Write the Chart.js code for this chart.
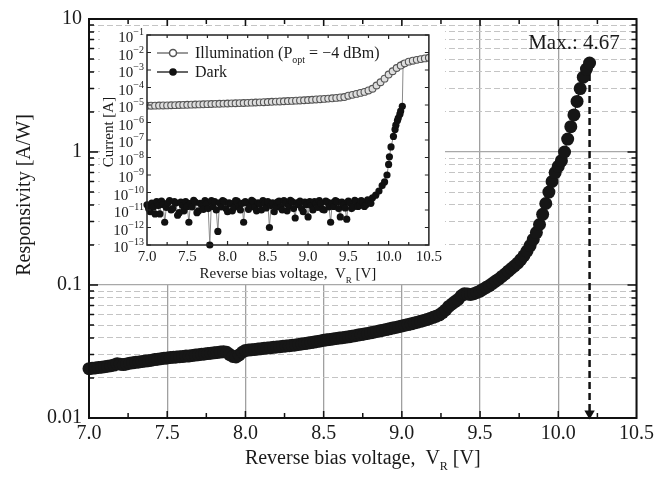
<!DOCTYPE html>
<html>
<head>
<meta charset="utf-8">
<script src="https://cdn.jsdelivr.net/npm/chart.js@4.4.1/dist/chart.umd.min.js"></script>
<style>
  html, body { margin: 0; padding: 0; background: #fff; }
  #wrap { position: relative; width: 658px; height: 479px; }
  #mainChart { position: absolute; left: 0; top: 0; }
  #insetChart { position: absolute; left: 100px; top: 26px; background: #fff; }
</style>
</head>
<body>
<div id="wrap">
  <canvas id="mainChart" width="658" height="479"></canvas>
  <canvas id="insetChart" width="345" height="258"></canvas>
</div>
<script>
// main plot: responsivity vs reverse bias
var voltage = [
  7.00,7.02,7.04,7.06,7.08,7.10,7.12,7.14,7.16,7.18,
  7.20,7.22,7.24,7.26,7.28,7.30,7.32,7.34,7.36,7.38,
  7.40,7.42,7.44,7.46,7.48,7.50,7.52,7.54,7.56,7.58,
  7.60,7.62,7.64,7.66,7.68,7.70,7.72,7.74,7.76,7.78,
  7.80,7.82,7.84,7.86,7.88,7.90,7.92,7.94,7.96,7.98,
  8.00,8.02,8.04,8.06,8.08,8.10,8.12,8.14,8.16,8.18,
  8.20,8.22,8.24,8.26,8.28,8.30,8.32,8.34,8.36,8.38,
  8.40,8.42,8.44,8.46,8.48,8.50,8.52,8.54,8.56,8.58,
  8.60,8.62,8.64,8.66,8.68,8.70,8.72,8.74,8.76,8.78,
  8.80,8.82,8.84,8.86,8.88,8.90,8.92,8.94,8.96,8.98,
  9.00,9.02,9.04,9.06,9.08,9.10,9.12,9.14,9.16,9.18,
  9.20,9.22,9.24,9.26,9.28,9.30,9.32,9.34,9.36,9.38,
  9.40,9.42,9.44,9.46,9.48,9.50,9.52,9.54,9.56,9.58,
  9.60,9.62,9.64,9.66,9.68,9.70,9.72,9.74,9.76,9.78,
  9.80,9.82,9.84,9.86,9.88,9.90,9.92,9.94,9.96,9.98,
  10.00,10.02,10.04,10.06,10.08,10.10,10.12,10.14,10.16,10.18,
  10.20
];
var responsivity = [
  .0235,.0237,.0238,.0240,.0241,.0243,.0245,.0247,.0250,.0256,
  .0254,.0252,.0255,.0258,.0260,.0262,.0264,.0266,.0268,.0270,
  .0272,.0275,.0277,.0279,.0281,.0283,.0285,.0286,.0288,.0289,
  .0290,.0292,.0293,.0295,.0297,.0299,.0301,.0303,.0305,.0307,
  .0309,.0311,.0313,.0315,.0312,.0300,.0290,.0288,.0298,.0312,
  .0322,.0324,.0326,.0328,.0330,.0332,.0334,.0336,.0338,.0340,
  .0342,.0344,.0346,.0348,.0350,.0352,.0354,.0357,.0360,.0363,
  .0366,.0369,.0372,.0376,.0380,.0384,.0387,.0390,.0393,.0396,
  .0399,.0402,.0405,.0408,.0412,.0416,.0420,.0424,.0428,.0432,
  .0437,.0442,.0447,.0452,.0457,.0462,.0468,.0474,.0480,.0486,
  .0492,.0498,.0504,.0511,.0518,.0525,.0533,.0541,.0550,.0560,
  .0571,.0583,.0597,.0620,.0650,.0690,.0720,.0750,.0780,.0830,
  .0860,.0855,.0850,.0860,.0880,.0900,.0930,.0960,.0990,.1030,
  .107,.111,.116,.121,.127,.133,.139,.146,.155,.166,
  .180,.198,.220,.248,.285,.340,.410,.500,.600,.700,
  .780,.860,1.00,1.25,1.55,1.90,2.40,3.00,3.65,4.20,
  4.67
];
var maxVoltage = 10.20;
var maxResp = 4.67;
var respDecades = [0.01, 0.1, 1, 10];

// inset: current vs reverse bias
var illumVoltage = [
  7.00,7.05,7.10,7.15,7.20,7.25,7.30,7.35,7.40,7.45,
  7.50,7.55,7.60,7.65,7.70,7.75,7.80,7.85,7.90,7.95,
  8.00,8.05,8.10,8.15,8.20,8.25,8.30,8.35,8.40,8.45,
  8.50,8.55,8.60,8.65,8.70,8.75,8.80,8.85,8.90,8.95,
  9.00,9.05,9.10,9.15,9.20,9.25,9.30,9.35,9.40,9.45,
  9.50,9.55,9.60,9.65,9.70,9.75,9.80,9.85,9.90,9.95,
  10.00,10.05,10.10,10.15,10.20,10.25,10.30,10.35,10.40,10.45,
  10.50
];
var illumCurrent = [
  9.0e-6,9.1e-6,9.2e-6,9.3e-6,9.4e-6,9.5e-6,9.7e-6,9.8e-6,1.0e-5,1.01e-5,
  1.03e-5,1.05e-5,1.07e-5,1.08e-5,1.1e-5,1.12e-5,1.14e-5,1.16e-5,1.18e-5,1.2e-5,
  1.22e-5,1.24e-5,1.26e-5,1.28e-5,1.3e-5,1.33e-5,1.36e-5,1.39e-5,1.42e-5,1.45e-5,
  1.48e-5,1.52e-5,1.56e-5,1.6e-5,1.64e-5,1.68e-5,1.72e-5,1.77e-5,1.82e-5,1.87e-5,
  1.93e-5,2.0e-5,2.07e-5,2.15e-5,2.23e-5,2.32e-5,2.42e-5,2.55e-5,2.7e-5,2.85e-5,
  3.4e-5,3.8e-5,4.3e-5,4.9e-5,5.6e-5,6.8e-5,8.5e-5,1.3e-4,2.0e-4,3.2e-4,
  5.5e-4,8.5e-4,1.3e-3,1.8e-3,2.4e-3,3.0e-3,3.4e-3,3.8e-3,4.2e-3,4.6e-3,
  5.0e-3
];
var darkVoltage = [
  7.00,7.02,7.04,7.06,7.08,7.10,7.12,7.14,7.16,7.18,
  7.20,7.22,7.24,7.26,7.28,7.30,7.32,7.34,7.36,7.38,
  7.40,7.42,7.44,7.46,7.48,7.50,7.52,7.54,7.56,7.58,
  7.60,7.62,7.64,7.66,7.68,7.70,7.72,7.74,7.76,7.78,
  7.80,7.82,7.84,7.86,7.88,7.90,7.92,7.94,7.96,7.98,
  8.00,8.02,8.04,8.06,8.08,8.10,8.12,8.14,8.16,8.18,
  8.20,8.22,8.24,8.26,8.28,8.30,8.32,8.34,8.36,8.38,
  8.40,8.42,8.44,8.46,8.48,8.50,8.52,8.54,8.56,8.58,
  8.60,8.62,8.64,8.66,8.68,8.70,8.72,8.74,8.76,8.78,
  8.80,8.82,8.84,8.86,8.88,8.90,8.92,8.94,8.96,8.98,
  9.00,9.02,9.04,9.06,9.08,9.10,9.12,9.14,9.16,9.18,
  9.20,9.22,9.24,9.26,9.28,9.30,9.32,9.34,9.36,9.38,
  9.40,9.42,9.44,9.46,9.48,9.50,9.52,9.54,9.56,9.58,
  9.60,9.62,9.64,9.66,9.68,9.70,9.72,9.74,9.76,9.78,
  9.80,9.84,9.88,9.92,9.95,9.98,10.00,10.01,10.03,10.06,
  10.08,10.09,10.11,10.12,10.14,10.15,10.17,10.18
];
var darkCurrent = [
  2.0e-11,1.2e-11,8e-12,2.5e-11,1.5e-11,6e-12,3e-11,1.8e-11,6e-12,3.2e-11,
  2e-11,2e-12,1.4e-11,2.6e-11,3.5e-11,1e-11,1.2e-11,3e-11,2.5e-11,5e-12,
  7e-12,2.8e-11,1.8e-11,9e-12,3e-11,1.6e-11,2e-12,2.4e-11,1.5e-11,3.6e-11,
  2.8e-11,7e-12,9e-12,2.4e-11,2e-11,1.1e-11,3.5e-11,2.2e-11,1.2e-11,1e-13,
  3.4e-11,1.6e-11,3e-11,1e-11,6e-13,2.6e-11,1.5e-11,3.4e-11,3e-11,1.2e-11,
  8e-12,2.6e-11,2.2e-11,9e-12,1.4e-11,3.4e-11,3.2e-11,1.6e-11,1e-11,2.4e-11,
  2e-12,3e-11,2.5e-11,1.1e-11,1.6e-11,3.6e-11,3e-11,1.4e-11,9e-12,2.6e-11,
  2.2e-11,1e-11,3.5e-11,2.4e-11,1.3e-11,3e-11,1e-12,1.8e-11,2.6e-11,8e-12,
  1.5e-11,2.8e-11,3.2e-11,1.4e-11,1e-11,3.4e-11,2.4e-11,9e-12,1.7e-11,3.6e-11,
  3e-11,1.2e-11,3.5e-12,2.6e-11,2e-11,3.2e-11,1.2e-11,8e-12,2.8e-11,2e-11,
  4e-12,3e-11,1.8e-11,1e-11,3e-11,2.4e-11,1.4e-11,3.4e-11,2.4e-11,1.1e-11,
  1e-11,3.2e-11,2.8e-11,1.5e-11,2e-12,2.6e-11,1.6e-11,3.4e-11,3e-11,1.2e-11,
  4e-12,2.8e-11,2e-11,1.3e-11,3e-12,3.2e-11,2.5e-11,1.2e-11,1.5e-11,3.6e-11,
  3e-11,1.6e-11,1.8e-11,3.4e-11,2.8e-11,1.6e-11,2e-11,3.8e-11,3.5e-11,2.4e-11,
  5e-11,7e-11,1.2e-10,2.5e-10,4e-10,1e-9,4e-9,1.1e-8,4e-8,1.6e-7,
  4e-7,7e-7,1.3e-6,1.8e-6,3e-6,4.5e-6,8.5e-6,2.2e-3
];
var currentDecades = [1e-1,1e-2,1e-3,1e-4,1e-5,1e-6,1e-7,1e-8,1e-9,1e-10,1e-11,1e-12,1e-13];

var SERIF = '"Liberation Serif", "Times New Roman", serif';
var INK = '#1a1a1a';

function pairs(xs, ys) {
  return xs.map(function (x, i) { return { x: x, y: ys[i] }; });
}

// text with subscripts, parts = [[text, isSub], ...]
function drawParts(ctx, parts, x, y, size, align) {
  var w = 0;
  parts.forEach(function (p) {
    ctx.font = (p[1] ? Math.round(size * 0.6) : size) + 'px ' + SERIF;
    w += ctx.measureText(p[0]).width;
  });
  var cx = align === 'left' ? x : x - w / 2;
  ctx.textAlign = 'left';
  ctx.textBaseline = 'alphabetic';
  parts.forEach(function (p) {
    ctx.font = (p[1] ? Math.round(size * 0.6) : size) + 'px ' + SERIF;
    ctx.fillText(p[0], cx, y + (p[1] ? size * 0.3 : 0));
    cx += ctx.measureText(p[0]).width;
  });
}

var respMinor = [];
respDecades.slice(0, 3).forEach(function (d) {
  for (var k = 2; k <= 9; k++) respMinor.push(d * k);
});

var mainDeco = {
  id: 'mainDeco',
  afterDraw: function (chart) {
    var ctx = chart.ctx, a = chart.chartArea;
    var xs = chart.scales.x, ys = chart.scales.y;
    ctx.save();
    ctx.strokeStyle = '#111';
    ctx.lineWidth = 2;
    ctx.strokeRect(a.left, a.top, a.right - a.left, a.bottom - a.top);
    ctx.lineWidth = 1.5;
    ctx.beginPath();
    for (var v = 7.25; v < 10.5; v += 0.25) {
      var px = xs.getPixelForValue(v);
      var len = (Math.abs(v * 2 - Math.round(v * 2)) < 1e-6) ? 7 : 5;
      ctx.moveTo(px, a.bottom); ctx.lineTo(px, a.bottom - len);
      ctx.moveTo(px, a.top); ctx.lineTo(px, a.top + len);
    }
    respMinor.forEach(function (m) {
      var py = ys.getPixelForValue(m);
      ctx.moveTo(a.left, py); ctx.lineTo(a.left + 5, py);
      ctx.moveTo(a.right, py); ctx.lineTo(a.right - 5, py);
    });
    respDecades.forEach(function (d) {
      var py = ys.getPixelForValue(d);
      ctx.moveTo(a.left, py); ctx.lineTo(a.left + 9, py);
      ctx.moveTo(a.right, py); ctx.lineTo(a.right - 9, py);
    });
    ctx.stroke();

    ctx.fillStyle = INK;
    // y title
    ctx.save();
    ctx.translate(25, 195);
    ctx.rotate(-Math.PI / 2);
    ctx.font = '20px ' + SERIF;
    ctx.textAlign = 'center';
    ctx.textBaseline = 'middle';
    ctx.fillText('Responsivity [A/W]', 0, 0);
    ctx.restore();
    // x title
    drawParts(ctx, [['Reverse bias voltage,  V', 0], ['R', 1], [' [V]', 0]],
      (a.left + a.right) / 2, 464, 20, 'center');
    // max label
    ctx.font = '21px ' + SERIF;
    ctx.textAlign = 'center';
    ctx.textBaseline = 'middle';
    ctx.fillText('Max.: 4.67', xs.getPixelForValue(10.1), ys.getPixelForValue(6.6));
    ctx.restore();
  }
};

new Chart(document.getElementById('mainChart'), {
  type: 'line',
  data: {
    datasets: [{
      label: 'Responsivity',
      data: pairs(voltage, responsivity),
      borderColor: '#111',
      borderWidth: 1,
      pointRadius: 6.5,
      pointBorderWidth: 0,
      pointBackgroundColor: '#161616',
      clip: false
    }, {
      label: 'Max',
      data: [{ x: maxVoltage, y: maxResp }, { x: maxVoltage, y: 0.0108 }],
      borderColor: '#111',
      borderWidth: 2.5,
      borderDash: [7, 4],
      pointRadius: [0, 6],
      pointStyle: 'triangle',
      pointRotation: 180,
      pointBackgroundColor: '#111',
      pointBorderWidth: 0,
      clip: false
    }]
  },
  options: {
    responsive: false,
    animation: false,
    layout: { padding: { left: 0, right: 21, top: 18, bottom: 0 } },
    plugins: { legend: { display: false }, tooltip: { enabled: false } },
    scales: {
      x: {
        type: 'linear', min: 7, max: 10.5,
        ticks: {
          stepSize: 0.5, autoSkip: false, maxRotation: 0, padding: 4, color: INK,
          font: { family: SERIF, size: 20 },
          callback: function (v) { return Number(v).toFixed(1); }
        },
        grid: { color: '#a0a0a0', lineWidth: 1.3, drawTicks: false },
        border: { display: false },
        afterFit: function (s) { s.height = 61; }
      },
      y: {
        type: 'logarithmic', min: 0.01, max: 10, position: 'left',
        afterBuildTicks: function (s) { s.ticks = respDecades.map(function (v) { return { value: v }; }); },
        ticks: {
          autoSkip: false, padding: 7, color: INK,
          font: { family: SERIF, size: 20 },
          callback: function (v) { return String(v); }
        },
        grid: { color: '#a8a8a8', lineWidth: 1.2, drawTicks: false },
        border: { display: false },
        afterFit: function (s) { s.width = 89; }
      },
      y2: {
        type: 'logarithmic', min: 0.01, max: 10, position: 'right',
        afterBuildTicks: function (s) { s.ticks = respMinor.map(function (v) { return { value: v }; }); },
        ticks: { display: false },
        grid: { color: '#c4c4c4', lineWidth: 1, drawTicks: false },
        border: { display: false, dash: [6, 3] },
        afterFit: function (s) { s.width = 0; }
      }
    }
  },
  plugins: [mainDeco]
});

var insetDeco = {
  id: 'insetDeco',
  afterDraw: function (chart) {
    var ctx = chart.ctx, a = chart.chartArea;
    var xs = chart.scales.x, ys = chart.scales.y;
    ctx.save();
    ctx.strokeStyle = '#222';
    ctx.lineWidth = 1.5;
    ctx.strokeRect(a.left, a.top, a.right - a.left, a.bottom - a.top);
    ctx.lineWidth = 1.2;
    ctx.beginPath();
    for (var v = 7.25; v < 10.5; v += 0.25) {
      var px = xs.getPixelForValue(v);
      var len = (Math.abs(v * 2 - Math.round(v * 2)) < 1e-6) ? 4 : 3;
      ctx.moveTo(px, a.bottom); ctx.lineTo(px, a.bottom - len);
      ctx.moveTo(px, a.top); ctx.lineTo(px, a.top + len);
    }
    currentDecades.forEach(function (d) {
      var py = ys.getPixelForValue(d);
      ctx.moveTo(a.left, py); ctx.lineTo(a.left + 4, py);
      ctx.moveTo(a.right, py); ctx.lineTo(a.right - 4, py);
    });
    ctx.stroke();

    // y tick labels 10^-n
    ctx.fillStyle = INK;
    ctx.textAlign = 'left';
    ctx.textBaseline = 'alphabetic';
    currentDecades.forEach(function (d) {
      var py = ys.getPixelForValue(d);
      var ex = '\u2212' + Math.round(-Math.log10(d));
      ctx.font = '10px ' + SERIF;
      var ew = ctx.measureText(ex).width;
      ctx.font = '15px ' + SERIF;
      var bw = ctx.measureText('10').width;
      var right = a.left - 3;
      ctx.fillText('10', right - ew - bw, py + 7);
      ctx.font = '10px ' + SERIF;
      ctx.fillText(ex, right - ew, py);
    });

    // y title
    ctx.save();
    ctx.translate(9, 106);
    ctx.rotate(-Math.PI / 2);
    ctx.font = '15px ' + SERIF;
    ctx.textAlign = 'center';
    ctx.textBaseline = 'middle';
    ctx.fillText('Current [A]', 0, 0);
    ctx.restore();

    // x title
    drawParts(ctx, [['Reverse bias voltage,  V', 0], ['R', 1], [' [V]', 0]],
      (a.left + a.right) / 2, 252, 15, 'center');

    // legend
    ctx.lineWidth = 1.5;
    ctx.strokeStyle = '#777';
    ctx.beginPath(); ctx.moveTo(57, 27); ctx.lineTo(88, 27); ctx.stroke();
    ctx.fillStyle = '#fff';
    ctx.strokeStyle = '#555';
    ctx.beginPath(); ctx.arc(73, 27, 3.5, 0, Math.PI * 2); ctx.fill(); ctx.stroke();
    ctx.strokeStyle = '#333';
    ctx.beginPath(); ctx.moveTo(57, 46); ctx.lineTo(88, 46); ctx.stroke();
    ctx.fillStyle = '#111';
    ctx.beginPath(); ctx.arc(73, 46, 3.8, 0, Math.PI * 2); ctx.fill();
    ctx.fillStyle = INK;
    drawParts(ctx, [['Illumination (P', 0], ['opt', 1], [' = \u22124 dBm)', 0]], 95, 32, 16, 'left');
    drawParts(ctx, [['Dark', 0]], 95, 51, 16, 'left');
    ctx.restore();
  }
};

new Chart(document.getElementById('insetChart'), {
  type: 'line',
  data: {
    datasets: [{
      label: 'Illumination',
      data: pairs(illumVoltage, illumCurrent),
      borderColor: '#666',
      borderWidth: 1,
      pointRadius: 3.4,
      pointBackgroundColor: '#dedede',
      pointBorderColor: '#555',
      pointBorderWidth: 1.1
    }, {
      label: 'Dark',
      data: pairs(darkVoltage, darkCurrent),
      borderColor: '#8a8a8a',
      borderWidth: 1,
      pointRadius: 3.6,
      pointBackgroundColor: '#111',
      pointBorderWidth: 0,
      clip: 6
    }]
  },
  options: {
    responsive: false,
    animation: false,
    layout: { padding: { left: 0, right: 8, top: 9, bottom: 0 } },
    plugins: { legend: { display: false }, tooltip: { enabled: false } },
    scales: {
      x: {
        type: 'linear', min: 7, max: 10.5,
        ticks: {
          stepSize: 0.5, autoSkip: false, maxRotation: 0, padding: 3, color: INK,
          font: { family: SERIF, size: 15 },
          callback: function (v) { return Number(v).toFixed(1); }
        },
        grid: { display: false, drawTicks: false },
        border: { display: false },
        afterFit: function (s) { s.height = 39; }
      },
      y: {
        type: 'logarithmic', min: 1e-13, max: 1e-1,
        afterBuildTicks: function (s) { s.ticks = currentDecades.map(function (v) { return { value: v }; }); },
        ticks: { display: false },
        grid: { display: false, drawTicks: false },
        border: { display: false },
        afterFit: function (s) { s.width = 47; }
      }
    }
  },
  plugins: [insetDeco]
});
</script>
</body>
</html>
